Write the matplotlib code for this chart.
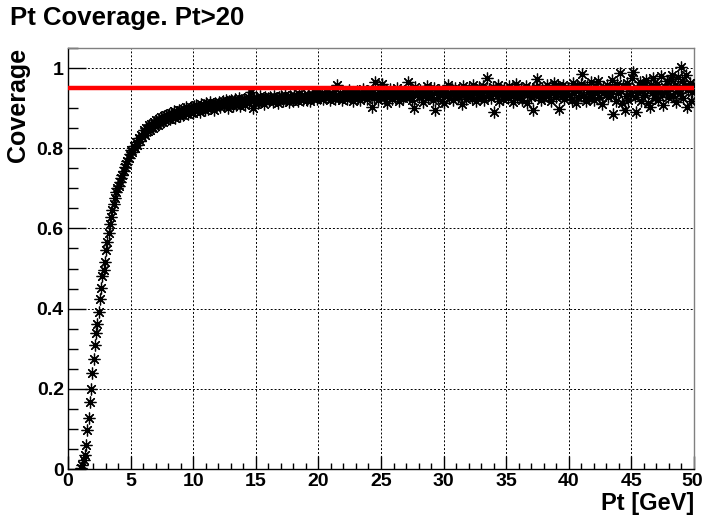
import numpy as np
import matplotlib
matplotlib.use("Agg")
import matplotlib.pyplot as plt
import matplotlib.transforms as mtransforms

# ---- data ----
title = "Pt Coverage. Pt>20"
xlabel = "Pt [GeV]"
ylabel = "Coverage"
bin_width = 0.1
x_first = 1.05
reference_level = 0.95
xticks = [0, 5, 10, 15, 20, 25, 30, 35, 40, 45, 50]
yticks = [0, 0.2, 0.4, 0.6, 0.8, 1.0]
ytick_labels = ["0", "0.2", "0.4", "0.6", "0.8", "1"]

coverage = [
    0.003, 0.010, 0.022, 0.036, 0.060, 0.097, 0.127, 0.168, 0.200, 0.240,
    0.274, 0.309, 0.339, 0.362, 0.392, 0.425, 0.452, 0.482, 0.497, 0.517,
    0.546, 0.566, 0.588, 0.610, 0.628, 0.645, 0.660, 0.676, 0.690, 0.700,
    0.706, 0.716, 0.725, 0.734, 0.743, 0.752, 0.760, 0.768, 0.776, 0.786,
    0.795, 0.790, 0.806, 0.801, 0.816, 0.809, 0.825, 0.818, 0.834, 0.827,
    0.845, 0.834, 0.850, 0.842, 0.857, 0.846, 0.861, 0.851, 0.866, 0.855,
    0.870, 0.858, 0.874, 0.864, 0.878, 0.866, 0.881, 0.871, 0.884, 0.873,
    0.886, 0.873, 0.889, 0.879, 0.892, 0.876, 0.891, 0.882, 0.895, 0.881,
    0.896, 0.883, 0.899, 0.887, 0.902, 0.885, 0.898, 0.890, 0.904, 0.888,
    0.906, 0.893, 0.909, 0.897, 0.904, 0.891, 0.910, 0.899, 0.907, 0.895,
    0.912, 0.898, 0.909, 0.915, 0.901, 0.911, 0.896, 0.914, 0.903, 0.910,
    0.916, 0.902, 0.913, 0.919, 0.905, 0.914, 0.920, 0.900, 0.917, 0.908,
    0.921, 0.906, 0.917, 0.923, 0.909, 0.918, 0.926, 0.905, 0.920, 0.912,
    0.924, 0.909, 0.920, 0.927, 0.912, 0.921, 0.940, 0.901, 0.925, 0.914,
    0.925, 0.914, 0.921, 0.930, 0.917, 0.924, 0.911, 0.928, 0.920, 0.926,
    0.918, 0.929, 0.923, 0.915, 0.931, 0.920, 0.926, 0.913, 0.928, 0.922,
    0.930, 0.917, 0.926, 0.933, 0.921, 0.928, 0.916, 0.931, 0.925, 0.919,
    0.932, 0.922, 0.928, 0.917, 0.935, 0.925, 0.930, 0.920, 0.933, 0.927,
    0.921, 0.934, 0.929, 0.918, 0.936, 0.926, 0.931, 0.940, 0.924, 0.932,
    0.931, 0.925, 0.938, 0.922, 0.935, 0.929, 0.941, 0.927, 0.933, 0.920,
    0.936, 0.928, 0.943, 0.924, 0.957, 0.931, 0.926, 0.939, 0.921, 0.934,
    0.929, 0.940, 0.923, 0.936, 0.945, 0.927, 0.933, 0.918, 0.938, 0.930,
    0.942, 0.926, 0.935, 0.921, 0.939, 0.947, 0.929, 0.936, 0.924, 0.944,
    0.931, 0.938, 0.903, 0.945, 0.927, 0.966, 0.934, 0.920, 0.940, 0.929,
    0.961, 0.935, 0.925, 0.944, 0.913, 0.938, 0.930, 0.948, 0.922, 0.936,
    0.940, 0.928, 0.951, 0.933, 0.919, 0.945, 0.937, 0.926, 0.942, 0.931,
    0.935, 0.966, 0.930, 0.944, 0.920, 0.939, 0.900, 0.952, 0.933, 0.941,
    0.927, 0.946, 0.936, 0.915, 0.943, 0.931, 0.955, 0.925, 0.938, 0.947,
    0.934, 0.921, 0.950, 0.895, 0.940, 0.929, 0.945, 0.936, 0.918, 0.942,
    0.913, 0.944, 0.931, 0.957, 0.925, 0.939, 0.948, 0.920, 0.936, 0.951,
    0.940, 0.927, 0.946, 0.933, 0.910, 0.955, 0.938, 0.922, 0.944, 0.930,
    0.949, 0.936, 0.925, 0.958, 0.941, 0.918, 0.945, 0.932, 0.952, 0.927,
    0.938, 0.955, 0.921, 0.944, 0.975, 0.933, 0.948, 0.926, 0.940, 0.953,
    0.891, 0.942, 0.930, 0.957, 0.919, 0.946, 0.935, 0.924, 0.951, 0.938,
    0.944, 0.925, 0.956, 0.933, 0.947, 0.915, 0.940, 0.961, 0.929, 0.945,
    0.932, 0.950, 0.920, 0.943, 0.937, 0.955, 0.912, 0.941, 0.948, 0.927,
    0.946, 0.895, 0.939, 0.953, 0.973, 0.930, 0.944, 0.921, 0.950, 0.936,
    0.925, 0.948, 0.957, 0.933, 0.942, 0.918, 0.951, 0.939, 0.963, 0.929,
    0.941, 0.955, 0.897, 0.946, 0.930, 0.958, 0.922, 0.944, 0.937, 0.951,
    0.933, 0.947, 0.920, 0.962, 0.939, 0.914, 0.953, 0.928, 0.945, 0.960,
    0.985, 0.931, 0.949, 0.917, 0.956, 0.940, 0.925, 0.964, 0.936, 0.948,
    0.921, 0.955, 0.938, 0.967, 0.929, 0.946, 0.910, 0.952, 0.941, 0.933,
    0.958, 0.927, 0.944, 0.936, 0.970, 0.885, 0.949, 0.918, 0.961, 0.939,
    0.987, 0.943, 0.912, 0.954, 0.895, 0.930, 0.962, 0.921, 0.947, 0.938,
    0.975, 0.990, 0.928, 0.891, 0.951, 0.940, 0.965, 0.917, 0.944, 0.958,
    0.932, 0.969, 0.949, 0.913, 0.904, 0.957, 0.938, 0.975, 0.926, 0.946,
    0.961, 0.920, 0.944, 0.980, 0.935, 0.907, 0.953, 0.942, 0.968, 0.929,
    0.950, 0.972, 0.982, 0.931, 0.958, 0.915, 0.944, 0.977, 0.939, 1.002,
    0.968, 0.926, 0.955, 0.983, 0.904, 0.947, 0.962, 0.917, 0.941, 0.958,
]

pt = x_first + bin_width * np.arange(len(coverage))

# ---- figure ----
plt.rcParams['font.family'] = ['Liberation Sans', 'DejaVu Sans']
plt.rcParams['font.weight'] = 'bold'

fig = plt.figure(figsize=(7.03, 5.22), dpi=100)
ax = fig.add_axes([68/703, 1-469/522, (694-68)/703, (469-48)/522])

ax.plot(pt, coverage, linestyle='none', marker=(8, 2, 0), markersize=8.5,
        markeredgewidth=0.9, color='black', markeredgecolor='black', zorder=3)
ax.plot([0, 50], [reference_level, reference_level], color='#ff0000', lw=3.2, zorder=4)

ax.set_xlim(0, 50)
ax.set_ylim(0, 1.05)
ax.set_xticks(xticks)
ax.set_xticklabels([str(t) for t in xticks])
ax.set_yticks(yticks)
ax.set_yticklabels(ytick_labels)
ax.set_xticks(np.arange(0, 51, 1), minor=True)
ax.set_yticks(np.arange(0, 1.051, 0.05), minor=True)

ax.grid(True, which='major', color='black', linestyle=(0, (2, 2)), linewidth=0.7)
ax.tick_params(axis='both', which='both', direction='in', top=False, right=False,
               colors='black')
ax.tick_params(axis='y', which='major', length=13, width=1, pad=3, labelsize=14)
ax.tick_params(axis='y', which='minor', length=7, width=1)
ax.tick_params(axis='x', which='major', length=9.5, width=1, pad=3, labelsize=14)
ax.tick_params(axis='x', which='minor', length=4, width=1)
for lab in ax.get_xticklabels() + ax.get_yticklabels():
    lab.set_fontweight('bold')
# keep the last x tick label inside the canvas
last = ax.get_xticklabels()[-1]
last.set_transform(last.get_transform() + mtransforms.ScaledTranslation(-2/100, 0, fig.dpi_scale_trans))

for side in ['top', 'right']:
    ax.spines[side].set_color('#808080')
    ax.spines[side].set_linewidth(1.0)
for side in ['left', 'bottom']:
    ax.spines[side].set_color('black')
    ax.spines[side].set_linewidth(1.0)

ax.set_xlabel(xlabel, fontsize=17, fontweight='bold', loc='right', labelpad=1)
ax.set_ylabel(ylabel, fontsize=18, fontweight='bold', loc='top', labelpad=5)

fig.text(10/703, 1-18/522, title, fontsize=18.5, fontweight='bold', ha='left', va='center')

fig.savefig("out.png", dpi=100)
